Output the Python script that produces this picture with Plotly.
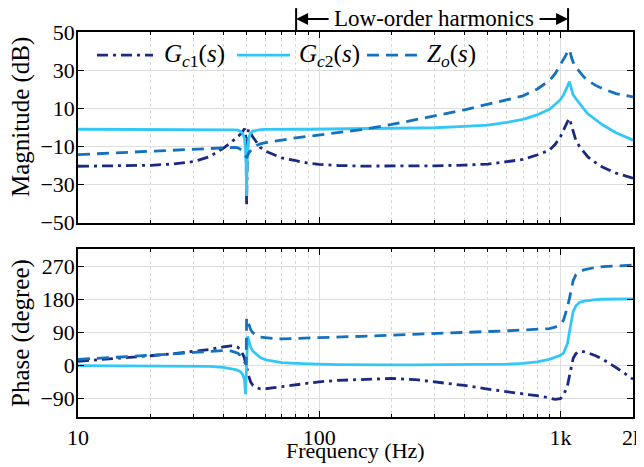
import plotly.graph_objects as go

# ---------------- data ----------------
freq = [10, 15, 20, 25, 30, 35, 40, 43, 45, 46, 47, 48, 48.5, 49, 49.5, 49.8, 50,
        50.2, 50.5, 51, 51.5, 52, 53, 55, 57, 60, 65, 70, 80, 90, 100, 120, 150,
        200, 250, 300, 400, 500, 600, 700, 800, 900, 950, 1000, 1030, 1050, 1070,
        1090, 1110, 1130, 1160, 1200, 1250, 1300, 1400, 1500, 1700, 2000]

mag_gc1 = [-20.4, -20.2, -19.9, -19.2, -18, -15.5, -11, -8, -6, -5, -3.8, -2.5, -1.5,
           -0.7, -3, -12, -41, -12, -3, -1, -1.8, -3, -5, -8, -10.5, -12.5, -14.5, -16,
           -17.5, -18.8, -19.4, -20, -20.3, -20.4, -20.4, -20.2, -19.8, -19.3, -18,
           -16.8, -14.5, -12, -9, -5, -1.5, 1, 3, 4.7, 1, -3, -7, -10, -13, -15.5,
           -18.5, -21, -24, -26.7]
mag_gc2 = [-1, -1, -1, -1, -1, -1, -1, -1.1, -1.3, -1.5, -2, -3, -4, -6, -11, -20, -36,
           -20, -11, -6, -4, -3, -2, -1.4, -1.2, -1.1, -1, -1, -1, -1, -0.9, -0.8, -0.7,
           -0.6, -0.4, -0.2, 0.5, 1.2, 2.6, 4.2, 6.5, 9.5, 12, 14.5, 17, 19, 21.5, 24,
           20, 17, 15, 12.5, 9.5, 7, 4, 1.2, -2.8, -6.7]
mag_zo = [-14.3, -13.2, -12.3, -11.8, -11.4, -11, -10.6, -10.5, -10.5, -10.7, -11.2,
          -12, -12.8, -14, -15.5, -16, -16, -15.5, -14.5, -13.5, -12.8, -12, -11, -9.5,
          -8.7, -8, -7.2, -6.5, -5.5, -4.7, -4, -2.5, -1.2, 1.5, 4.2, 6, 9.2, 12, 14.2,
          16.5, 20, 24.5, 28, 32.5, 35.5, 37.5, 39.5, 40.8, 37, 34, 31.5, 29, 26.5,
          24.5, 22, 20.2, 17.7, 16]

ph_gc1 = [12, 20, 27, 33, 38, 44, 51, 54, 53, 50, 44, 35, 28, 20, 10, 4, 0, -5, -15,
          -28, -38, -45, -53, -60, -63, -63, -60, -57, -52, -47, -44, -40, -37, -35,
          -38, -44, -54, -64, -71, -76, -82, -88, -92, -90, -80, -68, -55, -28, 0, 20,
          33, 39, 38, 35, 27, 17, -5, -37]
ph_gc2 = [0, -0.5, -1, -1.3, -1.7, -2, -5, -8, -11, -13, -16, -22, -28, -38, -78, -40,
          0, 40, 80, 70, 58, 50, 40, 30, 22, 16, 11, 8, 6, 4.5, 4, 3, 2, 2, 2, 2, 2,
          2.5, 4, 6, 10, 17, 22, 28, 34, 45, 60, 92, 125, 148, 163, 172, 176, 178,
          180, 181, 182, 182]
ph_zo = [17, 23, 28, 32, 36, 39, 41, 40, 37, 34, 28, 20, 15, 10, 5, 2, 130, 128, 122,
         112, 104, 98, 90, 82, 78, 76, 74, 73, 74, 75, 77, 79, 80, 83, 85, 87, 90, 93,
         95, 97, 99, 101, 105, 112, 124, 140, 160, 183, 210, 232, 248, 256, 261, 264,
         268, 270, 272, 274]

series_names = ["<i>G</i><sub><i>c</i>1</sub>(<i>s</i>)",
                "<i>G</i><sub><i>c</i>2</sub>(<i>s</i>)",
                "<i>Z</i><sub><i>o</i></sub>(<i>s</i>)"]
x_tickvals = [10, 100, 1000, 2000]
x_ticktext = ["10", "100", "1k", "2k"]
x_minor = [20, 30, 40, 50, 60, 70, 80, 90, 200, 300, 400, 500, 600, 700, 800, 900]
mag_ticks = [-50, -30, -10, 10, 30, 50]
ph_ticks = [-90, 0, 90, 180, 270]

# ---------------- styles ----------------
C1, C2, C3 = "#1b2a80", "#33c7f7", "#1571be"
FONT = "Liberation Serif"
W = 2.8
dash1 = "11px,5px,3px,5px"
dash3 = "12px,7px"
styles = [(C1, dash1), (C2, "solid"), (C3, dash3)]

fig = go.Figure()
mags = [mag_gc1, mag_gc2, mag_zo]
phs = [ph_gc1, ph_gc2, ph_zo]
for i in range(3):
    col, dsh = styles[i]
    fig.add_trace(go.Scatter(x=freq, y=mags[i], mode="lines", name=series_names[i],
                             line=dict(color=col, width=W, dash=dsh), showlegend=False,
                             xaxis="x", yaxis="y"))
for i in range(3):
    col, dsh = styles[i]
    fig.add_trace(go.Scatter(x=freq, y=phs[i], mode="lines", showlegend=False,
                             line=dict(color=col, width=W, dash=dsh),
                             xaxis="x2", yaxis="y2"))

grid = "#dedede"
common_x = dict(type="log", range=[1, 3.30103], tickmode="array", tickvals=x_tickvals,
                ticktext=x_ticktext, ticks="inside", ticklen=6, tickcolor="black",
                showline=True, linecolor="black", linewidth=1.6, mirror="ticks",
                showgrid=True, gridcolor=grid, gridwidth=1, zeroline=False,
                automargin=False,
                minor=dict(tickmode="array", tickvals=x_minor, ticks="inside",
                           ticklen=3, tickcolor="black", showgrid=True,
                           gridcolor="#d8d8d8", griddash="dot", gridwidth=1),
                tickfont=dict(family=FONT, size=22, color="black"))
common_y = dict(ticks="inside", ticklen=6, tickcolor="black", showline=True,
                linecolor="black", linewidth=1.6, mirror="ticks", showgrid=True,
                gridcolor=grid, gridwidth=1, zeroline=False, tickmode="array",
                automargin=False, ticklabelstandoff=-3,
                tickfont=dict(family=FONT, size=22, color="black"))

# the page body adds an 8px offset, so the figure is 8px smaller on each axis
fig.update_layout(
    width=636, height=459,
    margin=dict(l=70, r=11, t=24, b=50, autoexpand=False),
    paper_bgcolor="white", plot_bgcolor="white",
    xaxis=dict(common_x, domain=[0, 1], anchor="y", showticklabels=False),
    yaxis=dict(common_y, domain=[0.5047, 1], anchor="x", range=[-50, 50],
               tickvals=mag_ticks),
    xaxis2=dict(common_x, domain=[0, 1], anchor="y2", showticklabels=True),
    yaxis2=dict(common_y, domain=[0, 0.4364], anchor="x2", range=[-140, 318],
                tickvals=ph_ticks),
    showlegend=False,
)

# manual legend (line samples + labels) in paper coordinates
leg_y = 0.94
leg_lines = [(0.0342, 0.1351), (0.2865, 0.382), (0.5207, 0.6162)]
leg_text_x = [0.1514, 0.3946, 0.6252]

shapes = [
    dict(type="line", xref="paper", yref="paper", x0=0.393, x1=0.393, y0=1.0, y1=1.062,
         line=dict(color="black", width=2)),
    dict(type="line", xref="paper", yref="paper", x0=0.883, x1=0.883, y0=1.0, y1=1.062,
         line=dict(color="black", width=2)),
]
anns = [
    dict(text="Magnitude (dB)", xref="paper", yref="paper", x=-0.1028, y=0.779,
         textangle=-90, showarrow=False, font=dict(family=FONT, size=25, color="black"),
         xanchor="center", yanchor="middle"),
    dict(text="Phase (degree)", xref="paper", yref="paper", x=-0.1028, y=0.218,
         textangle=-90, showarrow=False, font=dict(family=FONT, size=25, color="black"),
         xanchor="center", yanchor="middle"),
    dict(text="Frequency (Hz)", xref="paper", yref="paper", x=0.5, y=-0.088,
         showarrow=False, font=dict(family=FONT, size=22, color="black"),
         xanchor="center", yanchor="middle"),
    dict(text="Low-order harmonics", xref="paper", yref="paper", x=0.642, y=1.034,
         showarrow=False, font=dict(family=FONT, size=23, color="black"),
         xanchor="center", yanchor="middle", borderpad=0),
    dict(text="", xref="paper", yref="paper", x=0.393, y=1.034, ax=34, ay=0,
         showarrow=True, arrowhead=2, arrowsize=1.2, arrowwidth=2, arrowcolor="black"),
    dict(text="", xref="paper", yref="paper", x=0.883, y=1.034, ax=-30, ay=0,
         showarrow=True, arrowhead=2, arrowsize=1.2, arrowwidth=2, arrowcolor="black"),
]
for i in range(3):
    col, dsh = styles[i]
    x0, x1 = leg_lines[i]
    shapes.append(dict(type="line", xref="paper", yref="paper", x0=x0, x1=x1,
                       y0=leg_y, y1=leg_y, line=dict(color=col, width=W, dash=dsh)))
    anns.append(dict(text=series_names[i], xref="paper", yref="paper", x=leg_text_x[i],
                     y=leg_y, showarrow=False, xanchor="left", yanchor="middle",
                     font=dict(family=FONT, size=25, color="black")))

fig.update_layout(annotations=anns, shapes=shapes)
fig.write_html("out.html")
